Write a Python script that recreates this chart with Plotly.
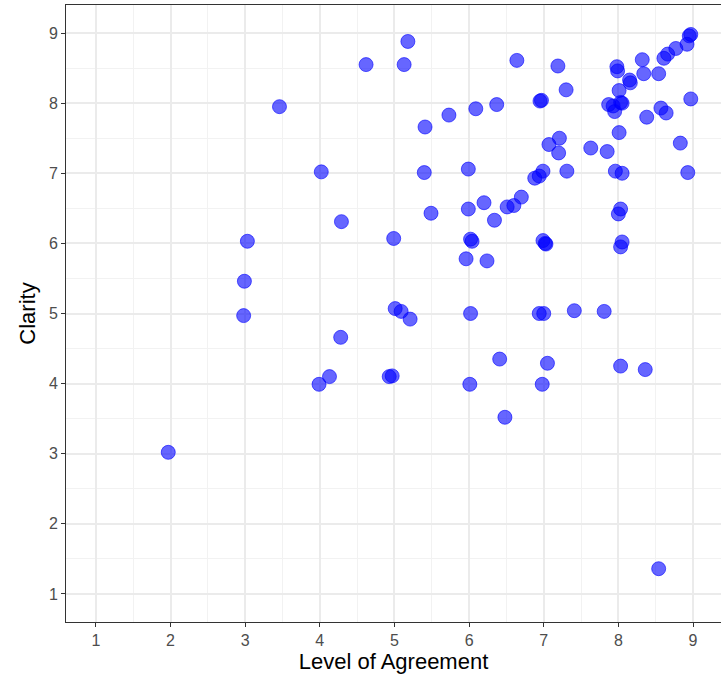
import plotly.graph_objects as go

agreement = [1.97, 3.46, 4.02, 4.29, 3.03, 2.99, 2.98, 4.28, 4.13, 3.99,
             5.18, 4.62, 5.13, 6.64, 6.95, 6.97, 5.41, 5.73, 6.09, 6.37,
             5.40, 5.99, 7.07, 6.88, 6.94, 6.99, 7.19, 7.30, 7.98, 7.99,
             8.32, 8.34, 8.15, 8.16, 8.54, 8.61, 8.66, 8.77, 8.92, 8.97,
             8.95, 8.01, 7.93, 7.95, 8.03, 8.05, 7.87, 8.97, 8.38, 8.57,
             8.64, 8.01, 7.21, 7.20, 7.63, 7.85, 8.83, 7.31, 7.96, 8.05,
             8.93, 8.03, 8.00, 8.05, 8.03, 7.41, 7.81, 8.03, 8.36, 8.54,
             5.49, 5.99, 6.20, 6.34, 6.51, 6.60, 6.70, 4.99, 6.02, 6.04,
             5.96, 6.24, 6.99, 7.02, 7.03, 5.01, 5.09, 5.21, 6.02, 6.94,
             7.00, 6.41, 7.05, 4.93, 4.97, 6.01, 6.98, 6.48]
clarity = [3.02, 7.95, 7.02, 6.31, 6.03, 5.46, 4.97, 4.66, 4.10, 3.99,
           8.88, 8.55, 8.55, 8.61, 8.03, 8.04, 7.66, 7.83, 7.92, 7.98,
           7.01, 7.06, 7.41, 6.93, 6.96, 7.03, 8.53, 8.19, 8.52, 8.46,
           8.62, 8.42, 8.33, 8.29, 8.42, 8.64, 8.70, 8.78, 8.84, 8.98,
           8.96, 8.18, 7.96, 7.88, 8.01, 8.00, 7.98, 8.06, 7.80, 7.93,
           7.86, 7.58, 7.50, 7.29, 7.36, 7.31, 7.43, 7.03, 7.03, 7.00,
           7.01, 6.49, 6.42, 6.02, 5.95, 5.04, 5.03, 4.25, 4.20, 1.36,
           6.43, 6.49, 6.58, 6.33, 6.52, 6.54, 6.66, 6.07, 6.06, 6.03,
           5.78, 5.75, 6.04, 6.00, 5.99, 5.07, 5.03, 4.92, 5.00, 5.00,
           5.00, 4.35, 4.29, 4.10, 4.11, 3.99, 3.99, 3.52]

tick_vals = [1, 2, 3, 4, 5, 6, 7, 8, 9]
tick_text = [str(v) for v in tick_vals]

fig = go.Figure()
fig.add_trace(go.Scatter(
    x=agreement, y=clarity, mode="markers",
    marker=dict(size=14, color="rgba(0,0,255,0.6)",
                line=dict(color="rgba(0,0,255,0.6)", width=1)),
    showlegend=False, hoverinfo="skip",
))

font_family = "Liberation Sans, Arial, Helvetica, sans-serif"
axis_common = dict(
    tickmode="array", tickvals=tick_vals, ticktext=tick_text,
    ticks="outside", ticklen=4, tickwidth=1, tickcolor="#333333",
    tickfont=dict(family=font_family, size=16, color="#4D4D4D"),
    showgrid=True, gridcolor="#EBEBEB", gridwidth=1.6,
    minor=dict(tickmode="array", tickvals=[0.5, 1.5, 2.5, 3.5, 4.5, 5.5, 6.5, 7.5, 8.5, 9.5],
               showgrid=True, gridcolor="#F2F2F2", gridwidth=0.9, ticks=""),
    zeroline=False, showline=True, linecolor="#333333", linewidth=1,
)

fig.update_layout(
    width=721, height=674,
    margin=dict(l=66, r=0, t=5, b=52),
    paper_bgcolor="white", plot_bgcolor="white",
    font=dict(family=font_family),
    xaxis=dict(axis_common, range=[0.6, 9.375], mirror=True,
               title=dict(text="Level of Agreement",
                          font=dict(family=font_family, size=22, color="black"),
                          standoff=5)),
    yaxis=dict(axis_common, range=[0.6, 9.4], mirror=False,
               title=dict(text="Clarity",
                          font=dict(family=font_family, size=22, color="black"),
                          standoff=7)),
)

fig.write_html("out.html")
